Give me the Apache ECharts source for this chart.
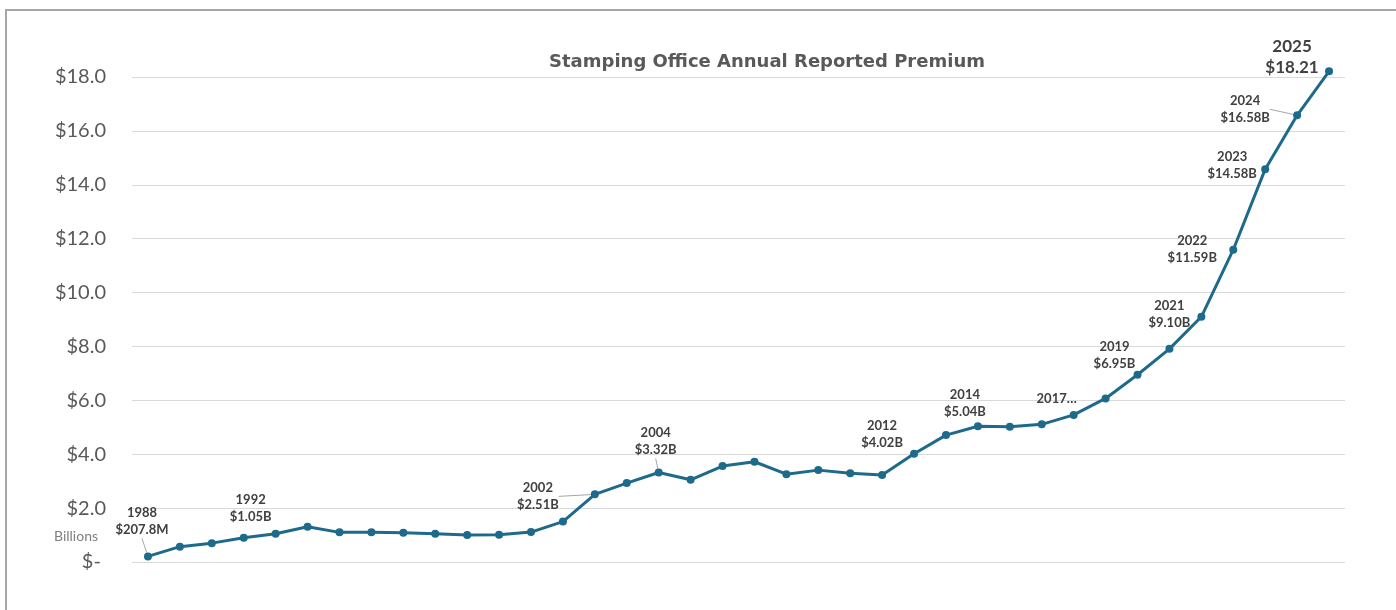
<!DOCTYPE html>
<html>
<head>
<meta charset="utf-8">
<script src="https://cdn.jsdelivr.net/npm/echarts@6/dist/echarts.min.js"></script>
<style>
    html, body { margin: 0; padding: 0; background: #fff; overflow: hidden; }
    #chart { width: 1396px; height: 610px; }
    #frame {
        position: absolute; left: 5px; top: 9px; width: 2000px; height: 2000px;
        border: 2px solid #a6a6a6; pointer-events: none;
    }
</style>
</head>
<body>
<div id="chart"></div>
<div id="frame"></div>
<script>
    // annual reported premium, billions of dollars
    const years = [1988, 1989, 1990, 1991, 1992, 1993, 1994, 1995, 1996, 1997,
        1998, 1999, 2000, 2001, 2002, 2003, 2004, 2005, 2006, 2007,
        2008, 2009, 2010, 2011, 2012, 2013, 2014, 2015, 2016, 2017,
        2018, 2019, 2020, 2021, 2022, 2023, 2024, 2025];
    const premium = [0.2078, 0.57, 0.70, 0.90, 1.05, 1.31, 1.10, 1.10, 1.09, 1.05,
        1.00, 1.01, 1.11, 1.50, 2.51, 2.93, 3.32, 3.05, 3.56, 3.72,
        3.26, 3.41, 3.29, 3.23, 4.02, 4.71, 5.04, 5.02, 5.11, 5.46,
        6.07, 6.95, 7.91, 9.10, 11.59, 14.58, 16.58, 18.21];
    const labelledYears = [1988, 1992, 2002, 2004, 2012, 2014, 2017, 2019, 2021, 2022, 2023, 2024, 2025];
    const yTicks = [0, 2, 4, 6, 8, 10, 12, 14, 16, 18];

    // where each data label sits relative to its point
    const labelOffset = {
        1988: [-6, -35], 1992: [-25, -25], 2002: [-57, 2], 2004: [-3, -31],
        2012: [-32, -19], 2014: [-13, -23], 2017: [-17, -16], 2019: [-23, -19],
        2021: [-32, -2], 2022: [-41, 0], 2023: [-33, -4], 2024: [-52, -6], 2025: [-37, -14]
    };
    const withLeader = [1988, 2002, 2004, 2024];

    function moneyText(v) {
        if (v < 1) return '$' + (v * 1000).toFixed(1) + 'M';
        return '$' + v.toFixed(2) + 'B';
    }

    const lineColor = '#1e6a8a';
    const data = premium.map(function (v, i) {
        const yr = years[i];
        const item = { value: v };
        if (labelledYears.indexOf(yr) !== -1) {
            let text = yr + '\n' + moneyText(v);
            if (yr === 2017) text = '2017…';
            if (yr === 2025) text = yr + '\n$' + v.toFixed(2);
            const big = yr === 2025;
            item.label = {
                show: true,
                position: 'inside',
                offset: labelOffset[yr],
                formatter: text,
                color: '#404040',
                fontFamily: 'Lato',
                fontWeight: 'bold',
                fontSize: big ? 17 : 13,
                lineHeight: big ? 21 : 17,
                align: 'center',
                verticalAlign: 'middle',
                textBorderWidth: 0
            };
            if (withLeader.indexOf(yr) !== -1) {
                item.labelLine = { show: true, lineStyle: { color: '#a6a6a6', width: 1 } };
            }
        }
        return item;
    });

    const myChart = echarts.init(document.getElementById('chart'));
    const option = {
        animation: false,
        backgroundColor: '#fff',
        title: {
            text: 'Stamping Office Annual Reported Premium',
            left: 762,
            top: 48,
            textAlign: 'center',
            textStyle: { fontFamily: 'DejaVu Sans', fontWeight: 'bold', fontSize: 18, color: '#595959' }
        },
        grid: { left: 132, right: 51, top: 77, bottom: 48 },
        xAxis: {
            type: 'category',
            data: years,
            boundaryGap: true,
            axisLine: { show: false },
            axisTick: { show: false },
            axisLabel: { show: false }
        },
        yAxis: {
            type: 'value',
            min: yTicks[0],
            max: yTicks[yTicks.length - 1],
            interval: 2,
            axisLine: { show: false },
            axisTick: { show: false },
            splitLine: { lineStyle: { color: '#d9d9d9', width: 1 } },
            axisLabel: {
                margin: 26,
                fontFamily: 'Lato',
                fontSize: 20,
                color: '#595959',
                formatter: function (v) { return v === 0 ? '$- ' : '$' + v.toFixed(1); }
            }
        },
        graphic: [{
            type: 'text',
            left: 54,
            top: 529,
            style: { text: 'Billions', fontFamily: 'Lato', fontSize: 14, fill: '#7f7f7f' }
        }],
        series: [{
            type: 'line',
            data: data,
            clip: false,
            symbol: 'circle',
            symbolSize: 8,
            itemStyle: { color: lineColor },
            lineStyle: { color: lineColor, width: 3 }
        }]
    };
    myChart.setOption(option);
</script>
</body>
</html>
